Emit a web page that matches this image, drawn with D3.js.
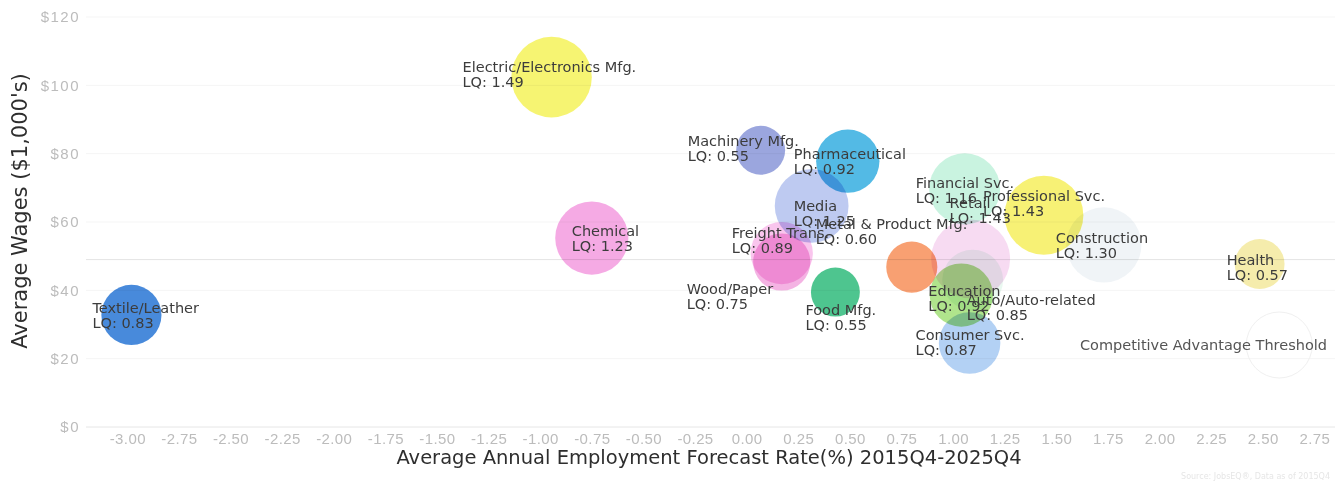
<!DOCTYPE html>
<html>
<head>
<meta charset="utf-8">
<script src="https://cdn.jsdelivr.net/npm/d3@7"></script>
<style>
  body { margin: 0; background: #fff; }
  svg { display: block; font-family: "DejaVu Sans", sans-serif; }
  .bubble { mix-blend-mode: multiply; }
  .tick text { fill: #bcbcbc; }
</style>
</head>
<body>
<div id="chart"></div>
<script>
// Industry clusters: forecast growth (%) vs average wages ($1,000's), bubble = LQ
const industries = [
  "Textile/Leather", "Electric/Electronics Mfg.", "Chemical", "Machinery Mfg.",
  "Media", "Pharmaceutical", "Wood/Paper", "Freight Trans.", "Food Mfg.",
  "Metal & Product Mfg.", "Financial Svc.", "Retail", "Auto/Auto-related",
  "Education", "Consumer Svc.", "Professional Svc.", "Construction", "Health"
];
const growthRate = [-2.98, -0.945, -0.75, 0.068, 0.315, 0.49, 0.17, 0.17, 0.43,
                    0.80, 1.056, 1.085, 1.095, 1.04, 1.08, 1.44, 1.73, 2.485];
const avgWages   = [32.8, 102.4, 55.3, 81.0, 64.7, 77.8, 48.3, 50.9, 39.5,
                    46.8, 69.7, 49.2, 43.0, 38.6, 24.6, 62.0, 53.3, 47.7];
const lqValues   = [0.83, 1.49, 1.23, 0.55, 1.25, 0.92, 0.75, 0.89, 0.55,
                    0.60, 1.16, 1.43, 0.85, 0.92, 0.87, 1.43, 1.30, 0.57];
const palette    = ["#2f7ad6", "#f5f35f", "#f49ee0", "#8d9ad9", "#b5c3ef", "#3bb0e1",
                    "#f2a8df", "#f8bdeb", "#35bd7f", "#f7935f", "#c1f1dc", "#f6d6f0",
                    "#e6f7ee", "#a5e07c", "#a9cbf2", "#f6ef62", "#eef3f6", "#f4e9a0"];
const xTicks = d3.range(-12, 12).map(i => i / 4);
const yTicks = [0, 20, 40, 60, 80, 100, 120];
const thresholdWage = 49;

// labels that the original tool pushed away from their bubble centre
const labelAt = {
  "Textile/Leather": [-39, -2], "Chemical": [-20, -2], "Machinery Mfg.": [-73, -4],
  "Media": [-18, 5], "Wood/Paper": [-95, 32], "Freight Trans.": [-50, -15],
  "Food Mfg.": [-30, 23], "Metal & Product Mfg.": [-96, -38], "Retail": [-21, -51],
  "Auto/Auto-related": [-6, 25], "Professional Svc.": [-61, -14], "Construction": [-48, -2],
  "Electric/Electronics Mfg.": [-89, -5], "Pharmaceutical": [-54, -2],
  "Financial Svc.": [-49, -1], "Education": [-33, 1], "Consumer Svc.": [-54, -3],
  "Health": [-33, 1]
};

const width = 1338, height = 485;
const svg = d3.select('#chart').append('svg')
    .attr('width', width)
    .attr('height', height);

const x = d3.scaleLinear().domain([-3.2, 2.85]).range([86, 1335]);
const y = d3.scaleLinear().domain([0, 120]).range([427, 17]);
const r = d3.scaleSqrt().domain([0, 1]).range([0, 33]);

// faint grid
svg.append('g').selectAll('line')
    .data(yTicks)
    .enter().append('line')
    .attr('x1', 86).attr('x2', 1335)
    .attr('y1', d => y(d)).attr('y2', d => y(d))
    .attr('stroke', d => d === 0 ? '#e6e6e6' : '#f5f5f5');

// threshold line
svg.append('line')
    .attr('x1', 86).attr('x2', 1335)
    .attr('y1', y(thresholdWage)).attr('y2', y(thresholdWage))
    .attr('stroke', '#e4e4e4');

// axes
const fmtX = d => d3.format('.2f')(d).replace('\u2212', '-');
svg.append('g')
    .attr('transform', `translate(0, ${y(0)})`)
    .call(d3.axisBottom(x).tickValues(xTicks).tickFormat(fmtX).tickSize(0).tickPadding(6))
    .call(g => g.select('.domain').remove())
    .selectAll('text').style('font-size', '15px').style('letter-spacing', '0.4px');

svg.append('g')
    .attr('transform', 'translate(86, 0)')
    .call(d3.axisLeft(y).tickValues(yTicks).tickFormat(d => '$' + d).tickSize(0).tickPadding(6))
    .call(g => g.select('.domain').remove())
    .selectAll('text').style('font-size', '15px').style('letter-spacing', '1.5px');

// axis titles
svg.append('text')
    .attr('x', 709).attr('y', 464)
    .attr('text-anchor', 'middle')
    .style('font-size', '19.5px').style('fill', '#2e2e2e')
    .text('Average Annual Employment Forecast Rate(%) 2015Q4-2025Q4');

svg.append('text')
    .attr('transform', 'translate(27, 211) rotate(-90)')
    .attr('text-anchor', 'middle')
    .style('font-size', '21px').style('fill', '#2e2e2e')
    .text("Average Wages ($1,000's)");

// bubbles
const rows = industries.map((name, i) => ({
  name: name, gx: growthRate[i], wage: avgWages[i], lq: lqValues[i], color: palette[i]
}));

svg.append('g').selectAll('circle')
    .data(rows)
    .enter().append('circle')
    .attr('class', 'bubble')
    .attr('cx', d => x(d.gx))
    .attr('cy', d => y(d.wage))
    .attr('r', d => r(d.lq))
    .attr('fill', d => d.color)
    .attr('fill-opacity', 0.88);

// legend: threshold bubble (LQ = 1)
svg.append('circle')
    .attr('cx', x(2.58)).attr('cy', y(24))
    .attr('r', r(1))
    .attr('fill', 'none')
    .attr('stroke', '#f0f0f0');

svg.append('text')
    .attr('x', 1327).attr('y', 350)
    .attr('text-anchor', 'end')
    .style('font-size', '14.5px').style('fill', '#555')
    .text('Competitive Advantage Threshold');

// labels
const labels = svg.append('g').selectAll('text')
    .data(rows)
    .enter().append('text')
    .style('font-size', '14.5px')
    .style('fill', '#3c3c3c');

labels.append('tspan').text(d => d.name);
labels.append('tspan').text(d => 'LQ: ' + d.lq.toFixed(2));

labels.each(function (d) {
  const spans = d3.select(this).selectAll('tspan').nodes();
  const w = d3.max(spans, s => s.getComputedTextLength());
  const cx = x(d.gx), cy = y(d.wage);
  const off = labelAt[d.name] || [-w / 2, -2];
  const lx = cx + off[0], ly = cy + off[1];
  d3.select(spans[0]).attr('x', lx).attr('y', ly);
  d3.select(spans[1]).attr('x', lx).attr('y', ly + 15);
});

// source note
svg.append('text')
    .attr('x', 1330).attr('y', 479)
    .attr('text-anchor', 'end')
    .style('font-size', '8px').style('fill', '#e6e6e6')
    .text('Source: JobsEQ\u00ae, Data as of 2015Q4');
</script>
</body>
</html>
